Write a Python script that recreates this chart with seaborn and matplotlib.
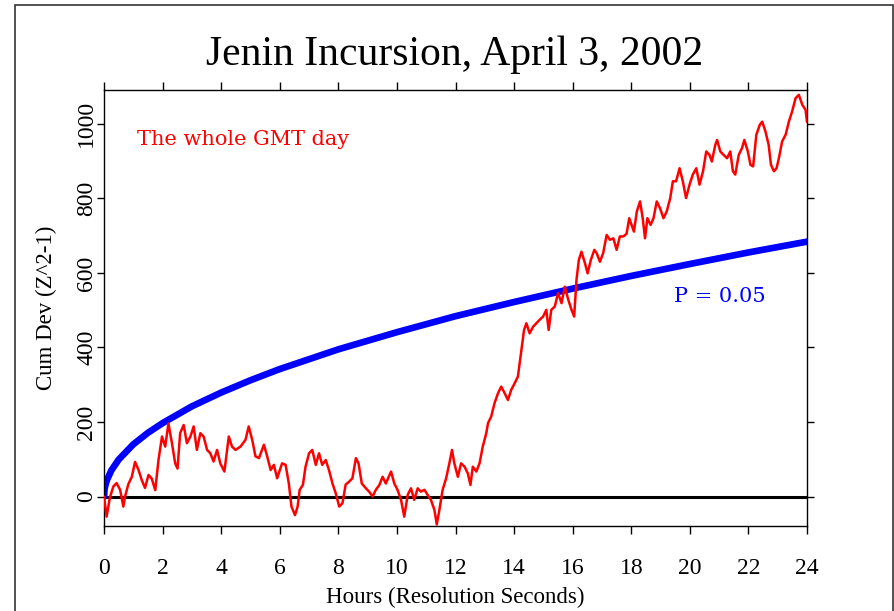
import numpy as np
import pandas as pd
import matplotlib
matplotlib.use("Agg")
import matplotlib.pyplot as plt
from matplotlib.patches import Rectangle
import seaborn as sns

# red cumulative deviation trace (hours, Cum Dev)
red_hours = [0.0, 0.09, 0.2, 0.32, 0.43, 0.55, 0.66, 0.72, 0.83, 0.95, 1.06, 1.18, 1.29, 1.4, 1.52,
             1.63, 1.75, 1.86, 1.98, 2.09, 2.2, 2.32, 2.43, 2.51, 2.6, 2.72, 2.83, 2.95, 3.06, 3.17,
             3.29, 3.4, 3.52, 3.63, 3.74, 3.86, 3.97, 4.11, 4.26, 4.37, 4.49, 4.66, 4.83, 4.94, 5.06,
             5.17, 5.29, 5.46, 5.57, 5.69, 5.8, 5.91, 6.08, 6.2, 6.31, 6.4, 6.52, 6.61, 6.68, 6.79,
             6.88, 7.0, 7.11, 7.23, 7.34, 7.45, 7.57, 7.68, 7.8, 7.91, 8.03, 8.14, 8.25, 8.37, 8.48,
             8.6, 8.69, 8.8, 8.94, 9.05, 9.17, 9.28, 9.4, 9.51, 9.62, 9.8, 9.91, 10.02, 10.14, 10.25,
             10.37, 10.48, 10.59, 10.71, 10.82, 10.94, 11.05, 11.16, 11.28, 11.36, 11.45, 11.56, 11.68,
             11.79, 11.88, 11.96, 12.08, 12.19, 12.31, 12.42, 12.51, 12.59, 12.71, 12.82, 12.93, 13.05,
             13.11, 13.22, 13.33, 13.45, 13.56, 13.68, 13.79, 13.9, 14.02, 14.13, 14.19, 14.25, 14.34,
             14.42, 14.53, 14.65, 14.76, 14.87, 14.99, 15.1, 15.18, 15.27, 15.39, 15.5, 15.62, 15.73,
             15.85, 15.96, 16.05, 16.13, 16.21, 16.3, 16.42, 16.51, 16.62, 16.74, 16.82, 16.93, 17.04,
             17.16, 17.27, 17.39, 17.5, 17.61, 17.73, 17.84, 17.93, 18.01, 18.09, 18.19, 18.3, 18.39,
             18.47, 18.55, 18.66, 18.76, 18.87, 18.98, 19.1, 19.21, 19.33, 19.42, 19.53, 19.65, 19.76,
             19.87, 19.99, 20.1, 20.22, 20.33, 20.45, 20.56, 20.67, 20.75, 20.87, 20.93, 21.04, 21.15,
             21.27, 21.38, 21.47, 21.55, 21.67, 21.78, 21.86, 21.98, 22.07, 22.16, 22.27, 22.39, 22.47,
             22.58, 22.69, 22.77, 22.87, 22.96, 23.04, 23.15, 23.27, 23.38, 23.49, 23.61, 23.72, 23.84,
             23.95, 24.0]
red_dev = [0, -54, -3, 27, 36, 18, -27, 0, 33, 53, 93, 71, 44, 23, 58,
           48, 17, 98, 161, 134, 196, 143, 89, 75, 170, 192, 143, 161, 188, 125,
           170, 161, 125, 116, 94, 125, 89, 67, 161, 134, 125, 134, 152, 188, 152,
           108, 103, 139, 108, 71, 85, 49, 89, 85, 35, -27, -50, -27, 18, 31,
           80, 116, 125, 85, 116, 85, 98, 71, 35, 9, -27, -18, 32, 40, 49,
           103, 89, 35, 22, 13, 0, 18, 31, 53, 35, 67, 35, 18, -9, -54,
           5, 22, -9, 22, 13, 18, 4, -9, -36, -75, -36, 18, 49,
           89, 125, 89, 53, 89, 80, 62, 31, 80, 67, 89, 134, 170,
           197, 215, 250, 277, 295, 277, 259, 286, 304, 322, 358, 394, 447,
           465, 438, 456, 465, 474, 483, 501, 447, 501, 510, 546, 519, 563,
           528, 501, 483, 581, 635, 657, 626, 599, 635, 662, 653, 630, 653,
           702, 689, 693, 662, 698, 698, 705, 747, 729, 711, 765, 792, 747,
           693, 747, 729, 747, 792, 774, 747, 765, 801, 846, 846, 881, 846,
           801, 837, 864, 881, 837, 873, 926, 917, 899, 944, 957, 926, 917,
           908, 926, 873, 864, 917, 935, 957, 926, 890, 886, 971, 998, 1006,
           980, 944, 890, 873, 881, 908, 953, 971, 1006, 1033, 1069, 1078, 1051,
           1038, 1005]

# blue P = 0.05 envelope
env_hours = [0.0, 0.02, 0.05, 0.1, 0.25, 0.5, 1, 1.5, 2, 3, 4, 5, 6, 8, 10, 12, 14, 16, 18, 20, 22, 24]
env_dev = [0, 20, 31, 44, 70, 99, 140, 171, 197, 242, 279, 312, 342, 395, 441, 484, 522, 558, 592, 624, 655, 684]

x_ticks = list(range(0, 25, 2))
y_ticks = [0, 200, 400, 600, 800, 1000]

sns.set_style("ticks")
plt.rcParams["font.family"] = ["Liberation Serif", "DejaVu Serif"]
for key in ["text.color", "axes.labelcolor", "xtick.color", "ytick.color"]:
    plt.rcParams[key] = "black"

red = pd.DataFrame({"Hours": red_hours, "CumDev": red_dev})
env = pd.DataFrame({"Hours": env_hours, "CumDev": env_dev})

fig = plt.figure(figsize=(8.95, 6.11), dpi=100)
ax = fig.add_axes([0.1162, 0.1392, 0.7855, 0.7135])

ax.axhline(0, color="black", lw=2.2, zorder=1)
sns.lineplot(data=env, x="Hours", y="CumDev", ax=ax, color="#0000ff", lw=4.8,
             estimator=None, zorder=2)
sns.lineplot(data=red, x="Hours", y="CumDev", ax=ax, color="#ff0000", lw=1.8,
             estimator=None, zorder=3)

ax.set_xlim(0, 24)
ax.set_ylim(-79, 1091)
ax.set_xticks(x_ticks)
ax.set_xticklabels([str(t) for t in x_ticks], fontsize=17)
ax.set_yticks(y_ticks)
ax.set_yticklabels([str(t) for t in y_ticks], fontsize=17, rotation=90, va="center")
ax.tick_params(axis="both", which="major", direction="out", length=6, width=1,
               top=True, right=True, color="black")
ax.tick_params(axis="x", pad=17)
ax.tick_params(axis="y", length=5, pad=0)
for s in ax.spines.values():
    s.set_visible(True)
    s.set_color("black")
    s.set_linewidth(1)

ax.set_xlabel("Hours (Resolution Seconds)", fontsize=16.5, labelpad=6)
ax.set_ylabel("Cum Dev (Z^2-1)", fontsize=16.5, labelpad=14)

ax.text(1.13, 957, "The whole GMT day", color="#ff0000", fontsize=15,
        family="DejaVu Serif", va="center", ha="left")
ax.text(19.45, 536, "P = 0.05", color="#0000ff", fontsize=15,
        family="DejaVu Serif", va="center", ha="left")

fig.text(0.508, 0.91, "Jenin Incursion, April 3, 2002", fontsize=30, ha="center", va="center")

# outer frame of the original screenshot
fig.add_artist(Rectangle((0.0168, -0.1), 0.981, 1.0918, transform=fig.transFigure,
                         fill=False, edgecolor="#333333", lw=1.2))

fig.savefig("out.png", dpi=100)
